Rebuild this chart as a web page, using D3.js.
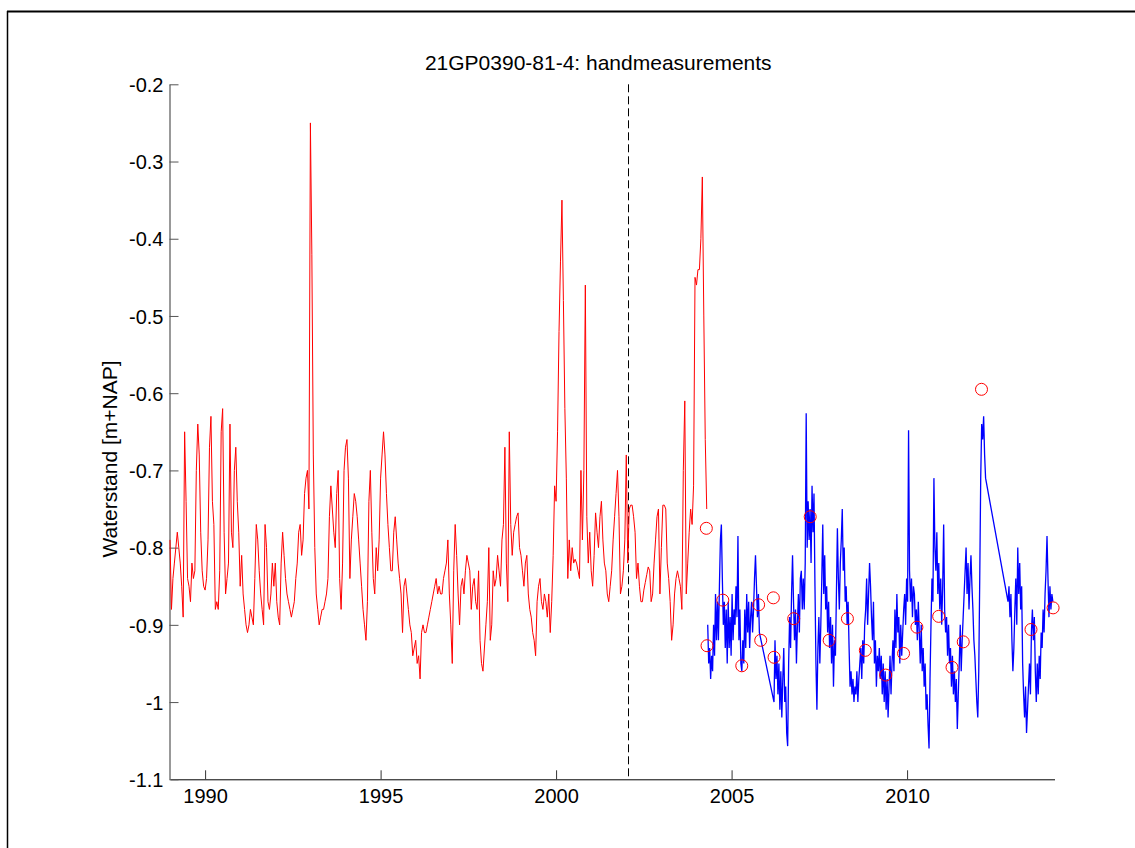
<!DOCTYPE html>
<html>
  <head>
    <meta charset='utf-8'>
    <script src='https://d3js.org/d3.v7.min.js'></script>
    <style type='text/css'>
      body { margin: 0; background: #fff; }
      text { font-family: 'Liberation Sans', Arial, Helvetica, sans-serif; fill: #000; }
      .axis text { font-size: 20px; }
      .title { font-size: 21px; }
    </style>
  </head>
  <body>
    <script type='text/javascript'>
      var chartTitle = '21GP0390-81-4: handmeasurements',
        yLabel = 'Waterstand [m+NAP]';

      var xTicks = [1990, 1995, 2000, 2005, 2010],
        yTicks = [-0.2, -0.3, -0.4, -0.5, -0.6, -0.7, -0.8, -0.9, -1.0, -1.1],
        yTickLabels = ['-0.2', '-0.3', '-0.4', '-0.5', '-0.6', '-0.7', '-0.8', '-0.9', '-1', '-1.1'];

      var splitYear = 2002.05;

      //old series, two readings a month from 1989
      var redStart = 1989.0, redStep = 1 / 24;
      var redLevels = [
        -0.79, -0.88, -0.84, -0.82, -0.80, -0.78, -0.80, -0.82, -0.85, -0.89, -0.65, -0.74, -0.84, -0.85, -0.87, -0.82, -0.84, -0.83, -0.70, -0.64, -0.68, -0.78, -0.83, -0.85,
        -0.855, -0.84, -0.79, -0.67, -0.63, -0.74, -0.77, -0.88, -0.87, -0.88, -0.83, -0.65, -0.62, -0.78, -0.86, -0.84, -0.82, -0.64, -0.78, -0.80, -0.70, -0.67, -0.74, -0.78,
        -0.85, -0.81, -0.86, -0.88, -0.90, -0.91, -0.90, -0.88, -0.89, -0.90, -0.84, -0.77, -0.79, -0.83, -0.86, -0.88, -0.90, -0.77, -0.80, -0.87, -0.88, -0.86, -0.82, -0.85,
        -0.82, -0.87, -0.89, -0.90, -0.82, -0.78, -0.81, -0.84, -0.86, -0.87, -0.88, -0.89, -0.88, -0.87, -0.84, -0.82, -0.78, -0.77, -0.81, -0.79, -0.73, -0.71, -0.70, -0.75,
        -0.25, -0.42, -0.68, -0.80, -0.86, -0.88, -0.90, -0.89, -0.88, -0.88, -0.87, -0.86, -0.84, -0.76, -0.72, -0.75, -0.78, -0.80, -0.73, -0.70, -0.84, -0.88, -0.82, -0.70,
        -0.67, -0.66, -0.71, -0.84, -0.79, -0.76, -0.73, -0.74, -0.76, -0.79, -0.82, -0.85, -0.88, -0.90, -0.92, -0.87, -0.74, -0.70, -0.78, -0.84, -0.86, -0.80, -0.83, -0.79,
        -0.71, -0.68, -0.65, -0.68, -0.73, -0.77, -0.80, -0.83, -0.83, -0.78, -0.76, -0.79, -0.82, -0.84, -0.86, -0.91, -0.85, -0.84, -0.86, -0.88, -0.90, -0.91, -0.94, -0.93,
        -0.92, -0.95, -0.94, -0.97, -0.91, -0.90, -0.91, -0.91, -0.90, -0.89, -0.88, -0.87, -0.86, -0.85, -0.84, -0.86, -0.85, -0.86, -0.86, -0.84, -0.83, -0.82, -0.79, -0.86,
        -0.90, -0.95, -0.83, -0.77, -0.81, -0.86, -0.90, -0.85, -0.84, -0.86, -0.83, -0.81, -0.82, -0.83, -0.88, -0.85, -0.84, -0.87, -0.88, -0.83, -0.92, -0.95, -0.96, -0.93,
        -0.90, -0.87, -0.80, -0.92, -0.90, -0.83, -0.85, -0.84, -0.81, -0.83, -0.85, -0.79, -0.77, -0.67, -0.82, -0.87, -0.65, -0.77, -0.81, -0.78, -0.77, -0.76, -0.755, -0.80,
        -0.81, -0.83, -0.85, -0.82, -0.81, -0.86, -0.88, -0.89, -0.91, -0.92, -0.94, -0.87, -0.85, -0.84, -0.87, -0.88, -0.86, -0.87, -0.89, -0.86, -0.91, -0.87, -0.81, -0.72,
        -0.74, -0.65, -0.52, -0.43, -0.35, -0.48, -0.62, -0.71, -0.84, -0.79, -0.83, -0.80, -0.82, -0.815, -0.82, -0.83, -0.84, -0.70, -0.79, -0.70, -0.46, -0.76, -0.82, -0.78,
        -0.83, -0.85, -0.81, -0.755, -0.78, -0.80, -0.76, -0.74, -0.79, -0.82, -0.83, -0.86, -0.87, -0.85, -0.83, -0.79, -0.76, -0.73, -0.70, -0.76, -0.86, -0.85, -0.83, -0.79,
        -0.68, -0.82, -0.75, -0.745, -0.745, -0.76, -0.78, -0.84, -0.82, -0.85, -0.87, -0.87, -0.855, -0.845, -0.835, -0.825, -0.83, -0.87, -0.86, -0.82, -0.79, -0.76, -0.75, -0.86,
        -0.80, -0.745, -0.745, -0.75, -0.82, -0.84, -0.87, -0.92, -0.90, -0.86, -0.84, -0.83, -0.84, -0.85, -0.88, -0.70, -0.61, -0.86, -0.82, -0.78, -0.75, -0.77, -0.72, -0.45,
        -0.46, -0.44, -0.44, -0.40, -0.32, -0.50, -0.66, -0.75
      ];

      //logger series, one reading every ~10 days, null = no data
      var blueStart = 2004.32, blueStep = 1 / 36;
      var blueLevels = [
        -0.90, -0.95, -0.93, -0.97, -0.94, -0.96, -0.90, -0.94, -0.86, -0.92,
        -0.87, -0.92, -0.85, -0.79, -0.77, -0.84, -0.90, -0.87, -0.93, -0.88,
        -0.95, -0.87, -0.93, -0.89, -0.94, -0.86, -0.92, -0.88, -0.90, -0.85,
        -0.89, -0.785, -0.92, -0.88, -0.95, -0.96, -0.92, -0.95, -0.88, -0.93,
        -0.86, -0.91, -0.87, -0.93, -0.89, -0.87, -0.91, -0.88, -0.84, -0.81,
        -0.85, -0.89, -0.86, -0.91, null, null, null, null, null, null,
        null, null, null, null, null, null, null, null, -1.00, -0.92,
        -0.97, -0.94, -0.99, -0.95, -1.01, -0.96, -1.02, -0.97, -0.93, -1.00,
        -0.98, -1.04, -1.057, -0.95, -0.89, -0.93, -0.86, -0.81, -0.87, -0.92,
        -0.88, -0.95, -0.90, -0.86, -0.91, -0.84, -0.83, -0.88, -0.84, -0.88,
        -0.82, -0.626, -0.80, -0.74, -0.79, -0.75, -0.82, -0.72, -0.78, -0.73,
        -0.85, -0.95, -1.01, -0.93, -0.89, -0.95, -0.90, -0.84, -0.77, -0.86,
        -0.81, -0.88, -0.85, -0.91, -0.87, -0.93, -0.89, -0.95, -0.90, -0.98,
        -0.92, -0.94, -0.86, -0.775, -0.84, -0.88, -0.82, -0.79, -0.75, -0.83,
        -0.80, -0.87, -0.85, -0.90, -0.87, -0.93, -0.98, -0.96, -0.99, -0.97,
        -1.00, -0.98, -0.99, -0.96, -1.00, -0.97, -0.95, -0.93, -0.97, -0.92,
        -0.95, -0.90, -0.88, -0.84, -0.90, -0.86, -0.82, -0.85, -0.89, -0.92,
        -0.87, -0.95, -0.92, -0.98, -0.94, -0.96, -0.93, -0.97, -0.94, -0.99,
        -0.95, -1.00, -0.96, -1.01, -0.97, -1.02, -0.98, -0.94, -0.99, -0.95,
        -0.92, -0.96, -0.88, -0.93, -0.86, -0.91, -0.89, -0.95, -0.90, -0.94,
        -0.91, -0.88, -0.86, -0.90, -0.84, -0.87, -0.648, -0.83, -0.87, -0.84,
        -0.89, -0.85, -0.86, -0.90, -0.88, -0.92, -0.87, -0.91, -0.95, -0.90,
        -0.96, -0.93, -0.98, -0.95, -1.01, -0.99, -1.03, -1.06, -0.97, -0.90,
        -0.84, -0.87, -0.71, -0.80, -0.83, -0.78, -0.86, -0.82, -0.88, -0.84,
        -0.90, -0.85, -0.77, -0.88, -0.91, -0.89, -0.94, -0.90, -0.95, -0.93,
        -0.98, -0.94, -0.99, -0.96, -1.00, -0.97, -1.035, -0.99, -0.95, -0.90,
        -0.96, -0.92, -0.89, -0.86, -0.83, -0.80, -0.86, -0.82, -0.88, -0.84,
        -0.81, -0.85, -0.88, -0.92, -0.94, -0.97, -1.00, -1.02, -0.96, -0.84,
        -0.71, -0.64, -0.66, -0.63, -0.68, -0.71, null, null, null, null,
        null, null, null, null, null, null, null, null, null, null,
        null, null, null, null, null, null, null, null, -0.87, -0.85,
        -0.89, -0.86, -0.92, -0.96, -0.93, -0.88, -0.84, -0.90, -0.80, -0.86,
        -0.82, -0.88, -0.85, -0.95, -0.99, -1.02, -0.98, -1.04, -1.01, -0.98,
        -0.95, -0.99, -0.91, -0.88, -0.92, -0.89, -0.96, -1.00, -0.95, -0.99,
        -0.94, -0.97, -0.91, -0.93, -0.88, -0.91, -0.86, -0.83, -0.785, -0.84,
        -0.89, -0.85, -0.88, -0.86, -0.87
      ];

      //hand measurements (circles)
      var handYears = [2004.28, 2004.30, 2004.75, 2005.29, 2005.77, 2005.83, 2006.19, 2006.21, 2006.77, 2007.24, 2007.78,
        2008.30, 2008.81, 2009.39, 2009.90, 2010.28, 2010.90, 2011.28, 2011.60, 2012.12, 2013.53, 2014.16];
      var handLevels = [-0.775, -0.927, -0.868, -0.953, -0.874, -0.920, -0.865, -0.942, -0.892, -0.760, -0.920,
        -0.892, -0.933, -0.965, -0.937, -0.903, -0.889, -0.955, -0.922, -0.595, -0.906, -0.878];
    </script>
    <script type='text/javascript'>
      var w = 1135,
        h = 848,
        plotLeft = 170,
        plotRight = 1054.5,
        plotTop = 84.3,
        plotBottom = 779.3;

      var svg = d3.select('body')
        .append('svg')
        .attr('width', w)
        .attr('height', h);

      //page frame (left and top edge)
      svg.append('line')
        .attr('x1', 7.5).attr('x2', 7.5).attr('y1', 11).attr('y2', h)
        .style('stroke', '#000').style('stroke-width', 1.5);
      svg.append('line')
        .attr('x1', 7).attr('x2', w).attr('y1', 11.5).attr('y2', 11.5)
        .style('stroke', '#000').style('stroke-width', 2);

      var x = d3.scaleLinear().domain([1989.0, 2014.2]).range([plotLeft, plotRight]);
      var y = d3.scaleLinear().domain([-1.1, -0.2]).range([plotBottom, plotTop]);

      //series as {t, v}
      var red = redLevels.map(function(v, i) { return {t: redStart + i * redStep, v: v}; });
      var blue = blueLevels.map(function(v, i) { return {t: blueStart + i * blueStep, v: v}; })
        .filter(function(d) { return d.v !== null; });
      var hand = handYears.map(function(t, i) { return {t: t, v: handLevels[i]}; });

      var line = d3.line()
        .x(function(d) { return x(d.t); })
        .y(function(d) { return y(d.v); });

      //axes, ticks pointing inward like matlab
      var xAxis = svg.append('g')
        .attr('class', 'axis')
        .attr('transform', 'translate(0,' + plotBottom + ')')
        .call(d3.axisBottom(x).tickValues(xTicks).tickFormat(d3.format('d'))
          .tickSizeInner(-9).tickSizeOuter(0).tickPadding(10));
      xAxis.select('.domain').style('stroke', '#000');
      xAxis.selectAll('.tick line').style('stroke', '#333');

      var yAxis = svg.append('g')
        .attr('class', 'axis')
        .attr('transform', 'translate(' + (plotLeft - 0.5) + ',0)')
        .call(d3.axisLeft(y).tickValues(yTicks)
          .tickFormat(function(d, i) { return yTickLabels[i]; })
          .tickSizeInner(-9).tickSizeOuter(0).tickPadding(6));
      yAxis.select('.domain').style('stroke', '#777').style('stroke-width', 1.5);
      yAxis.selectAll('.tick line').style('stroke', '#555');
      yAxis.selectAll('.tick text').attr('dy', '0.36em');
      svg.selectAll('.axis').attr('font-family', null).attr('font-size', null);

      //dashed split line, snapped to a pixel so it stays black
      var splitX = Math.round(x(splitYear)) + 0.5;
      svg.append('line')
        .attr('x1', splitX).attr('x2', splitX)
        .attr('y1', plotTop).attr('y2', plotBottom)
        .style('stroke', '#000')
        .style('stroke-dasharray', '8,4');

      svg.append('path')
        .datum(red)
        .attr('d', line)
        .style('fill', 'none')
        .style('stroke', '#ff0000')
        .style('stroke-width', 1);

      svg.append('path')
        .datum(blue)
        .attr('d', line)
        .style('fill', 'none')
        .style('stroke', '#0000ff')
        .style('stroke-width', 1.3);

      svg.selectAll('circle.hand').data(hand).enter().append('circle')
        .attr('class', 'hand')
        .attr('cx', function(d) { return x(d.t); })
        .attr('cy', function(d) { return y(d.v); })
        .attr('r', 6)
        .style('fill', 'none')
        .style('stroke', '#ff0000')
        .style('stroke-width', 1);

      //title and y label
      svg.append('text')
        .attr('class', 'title')
        .attr('x', (plotLeft + plotRight) / 2 - 14)
        .attr('y', 70)
        .attr('text-anchor', 'middle')
        .text(chartTitle);

      svg.append('text')
        .attr('class', 'title')
        .attr('transform', 'translate(117,459) rotate(-90)')
        .attr('text-anchor', 'middle')
        .text(yLabel);
    </script>
  </body>
</html>
